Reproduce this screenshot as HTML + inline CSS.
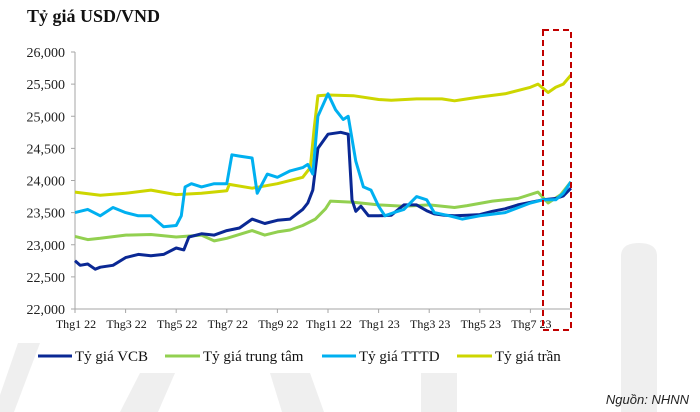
<!DOCTYPE html>
<html><head><meta charset="utf-8">
<style>
body{margin:0;background:#fff;}
svg{display:block;font-family:"Liberation Serif","Noto Serif CJK SC",serif;}
</style></head>
<body>
<svg id="chart" width="700" height="412" viewBox="0 0 700 412" xmlns="http://www.w3.org/2000/svg">
<g fill="#efefef">
<path d="M0 395 L18 343 L40 343 L14 412 L0 412 Z"/>
<path d="M421 412 L421 373 L457 373 L457 412 Z"/>
<path d="M621 412 L621 256 Q621 243 639 243 Q657 243 657 256 L657 412 Z"/>
<path d="M270 373 L310 373 L324 412 L282 412 Z"/>
<path d="M120 412 L140 373 L175 373 L158 412 Z"/>
</g>
<text x="27" y="22" font-size="18" font-weight="bold" fill="#111">Tỷ giá USD/VND</text>
<g id="axes"></g>
<g id="series"></g>
<rect x="543" y="30" width="28" height="300" fill="none" stroke="#c00000" stroke-width="2" stroke-dasharray="6,4"/>
<g font-size="15" fill="#111">
<g><line x1="38" y1="356" x2="72" y2="356" stroke="#0a2894" stroke-width="3"/><text x="75" y="361">Tỷ giá VCB</text></g>
<g><line x1="165" y1="356" x2="200" y2="356" stroke="#92d050" stroke-width="3"/><text x="203" y="361">Tỷ giá trung tâm</text></g>
<g><line x1="322" y1="356" x2="356" y2="356" stroke="#00b0f0" stroke-width="3"/><text x="359" y="361">Tỷ giá TTTD</text></g>
<g><line x1="457" y1="356" x2="492" y2="356" stroke="#cdd600" stroke-width="3"/><text x="495" y="361">Tỷ giá trần</text></g>
</g>
<text x="689" y="404" text-anchor="end" font-size="13" font-style="italic" font-family="Liberation Sans, sans-serif" fill="#222">Nguồn: NHNN</text>
</svg>
<script>
const yTicks=[22000,22500,23000,23500,24000,24500,25000,25500,26000];
const xTickLabels=["Thg1 22","Thg3 22","Thg5 22","Thg7 22","Thg9 22","Thg11 22","Thg1 23","Thg3 23","Thg5 23","Thg7 23"];
const xTickMonths=[0,2,4,6,8,10,12,14,16,18];
const vcbMonths=[0,0.2,0.5,0.8,1,1.5,2,2.5,3,3.5,4,4.3,4.5,5,5.5,6,6.5,7,7.5,8,8.5,9,9.2,9.4,9.6,10,10.5,10.8,10.95,11.1,11.3,11.6,12,12.5,13,13.5,13.9,14.2,14.6,15,15.5,16,16.5,17,17.5,18,18.5,19,19.3,19.6];
const vcbValues=[22750,22680,22700,22620,22650,22680,22800,22850,22830,22850,22950,22920,23120,23170,23150,23220,23260,23400,23330,23380,23400,23550,23650,23850,24500,24720,24750,24720,23700,23520,23600,23450,23450,23460,23620,23620,23530,23480,23460,23450,23460,23470,23520,23560,23620,23660,23700,23720,23760,23880];
const centralMonths=[0,0.5,1,2,3,4,5,5.5,6,7,7.5,8,8.5,9,9.5,9.9,10.1,11,12,13,14,15,15.5,16.5,17.5,18.3,18.7,19.2,19.6];
const centralValues=[23130,23080,23100,23150,23160,23120,23150,23060,23100,23220,23150,23200,23230,23300,23400,23560,23680,23660,23620,23600,23620,23580,23610,23680,23720,23820,23650,23780,23980];
const tttdMonths=[0,0.5,1,1.5,2,2.5,3,3.5,4,4.2,4.35,4.6,5,5.5,6,6.2,6.5,7,7.2,7.6,8,8.5,9,9.2,9.4,9.6,10,10.3,10.6,10.8,11.1,11.4,11.7,12,12.25,12.6,13,13.5,13.9,14.2,14.8,15.3,16,17,18,18.5,19,19.3,19.6];
const tttdValues=[23500,23550,23450,23580,23500,23450,23450,23280,23300,23450,23900,23950,23900,23950,23950,24400,24380,24350,23800,24100,24050,24150,24200,24250,24100,25000,25350,25100,24950,25000,24300,23900,23850,23600,23450,23500,23550,23750,23700,23500,23450,23400,23450,23500,23650,23700,23700,23800,23980];
const ceilMonths=[0,1,2,3,4,5,6,6.1,7,8,9,9.3,9.45,9.6,10,11,12,12.5,13.5,14.5,15,15.5,16,17,18,18.3,18.7,19,19.3,19.6];
const ceilValues=[23820,23770,23800,23850,23780,23800,23840,23940,23880,23950,24050,24200,24800,25320,25330,25320,25260,25250,25270,25270,25240,25270,25300,25350,25450,25500,25370,25450,25500,25640];

const NS="http://www.w3.org/2000/svg";
const X0=75,MW=25.3,Y0=309,YT=52;
const xOf=m=>X0+m*MW;
const yOf=v=>Y0-(v-22000)/4000*(Y0-YT);
const axes=document.getElementById('axes');
function mk(tag,attrs,parent){const e=document.createElementNS(NS,tag);for(const k in attrs)e.setAttribute(k,attrs[k]);parent.appendChild(e);return e;}
const yAxis=mk('line',{x1:X0,y1:YT,x2:X0,y2:Y0,stroke:'#a6a6a6'},axes);


const xAxis=mk('line',{x1:X0,y1:Y0,x2:570,y2:Y0,stroke:'#a6a6a6'},axes);


yTicks.forEach(v=>{
  const t=mk('line',{x1:X0-4,y1:yOf(v),x2:X0,y2:yOf(v),stroke:'#a6a6a6'},axes);
  
  
  const l=mk('text',{x:X0-10,y:yOf(v)+5,'text-anchor':'end','font-size':'14',fill:'#222'},axes);
  l.textContent=v.toLocaleString('en-US');
  
  
});
xTickMonths.forEach((m,i)=>{
  const t=mk('line',{x1:xOf(m),y1:Y0,x2:xOf(m),y2:Y0+4,stroke:'#a6a6a6'},axes);
  
  
  const l=mk('text',{x:xOf(m)+1,y:328,'text-anchor':'middle','font-size':'12',fill:'#111'},axes);
  l.textContent=xTickLabels[i];
  
  
});
const series=document.getElementById('series');
function draw(ms,vs,color,name){
  const d=ms.map((m,i)=>(i?'L':'M')+xOf(m).toFixed(1)+' '+yOf(vs[i]).toFixed(1)).join(' ');
  const p=mk('path',{d:d,fill:'none',stroke:color,'stroke-width':3,'stroke-linejoin':'round'},series);
  
  
}
draw(ceilMonths,ceilValues,'#cdd600','line-ty-gia-tran');
draw(centralMonths,centralValues,'#92d050','line-ty-gia-trung-tam');
draw(vcbMonths,vcbValues,'#0a2894','line-ty-gia-vcb');
draw(tttdMonths,tttdValues,'#00b0f0','line-ty-gia-tttd');
</script>
</body></html>
